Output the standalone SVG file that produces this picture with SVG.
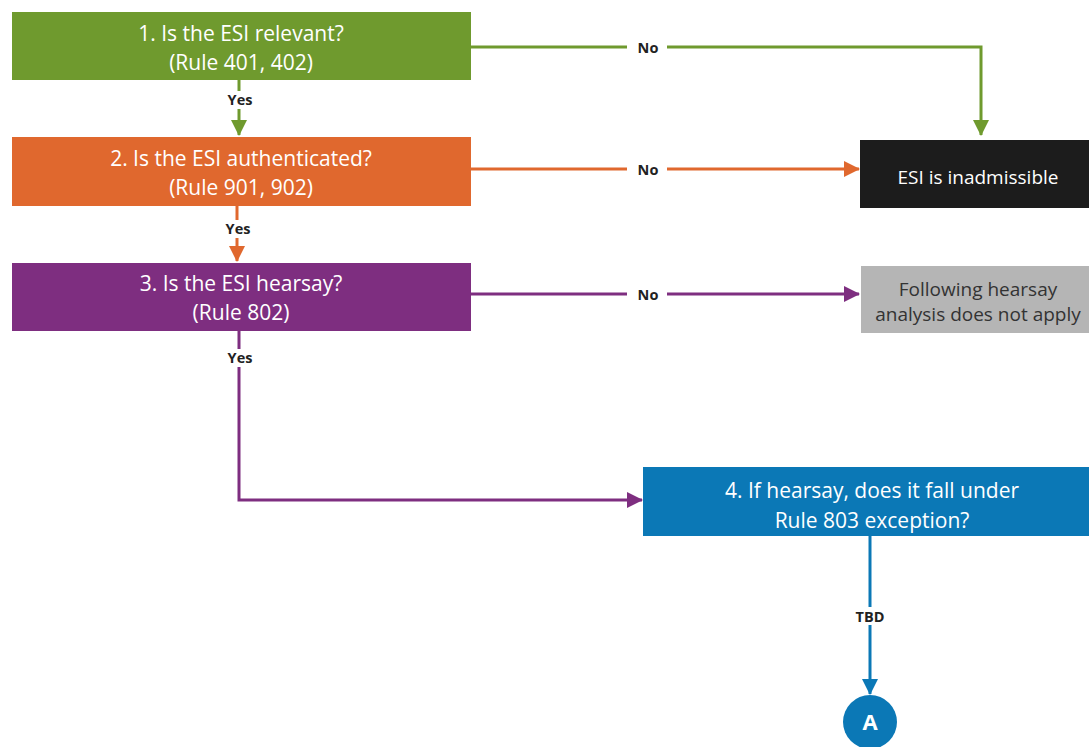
<svg xmlns="http://www.w3.org/2000/svg" width="1089" height="747" viewBox="0 0 1089 747">
<style>
.t{font-family:"Open Sans","Noto Sans","Liberation Sans",sans-serif;font-size:21px;fill:#fff;text-anchor:middle}
.s{font-size:19px}
.lb{font-family:"Open Sans","Noto Sans","Liberation Sans",sans-serif;font-size:14.5px;font-weight:bold;fill:#222;text-anchor:middle}
.c{fill:none;stroke-width:3}
.bg{fill:#fff}
</style>
<defs>
<marker id="aG" markerUnits="userSpaceOnUse" markerWidth="16" markerHeight="16" viewBox="0 0 16 16" refX="15" refY="8" orient="auto"><path d="M0,0 L16,8 L0,16 Z" fill="#6f9a2e"/></marker>
<marker id="aO" markerUnits="userSpaceOnUse" markerWidth="16" markerHeight="16" viewBox="0 0 16 16" refX="15" refY="8" orient="auto"><path d="M0,0 L16,8 L0,16 Z" fill="#e0682e"/></marker>
<marker id="aP" markerUnits="userSpaceOnUse" markerWidth="16" markerHeight="16" viewBox="0 0 16 16" refX="15" refY="8" orient="auto"><path d="M0,0 L16,8 L0,16 Z" fill="#7e2e80"/></marker>
<marker id="aB" markerUnits="userSpaceOnUse" markerWidth="16" markerHeight="16" viewBox="0 0 16 16" refX="15" refY="8" orient="auto"><path d="M0,0 L16,8 L0,16 Z" fill="#0b78b6"/></marker>
</defs>
<rect width="1089" height="747" fill="#fff"/>
<g id="connectors">
<path class="c" stroke="#6f9a2e" d="M471,47 H981 V135" marker-end="url(#aG)"/>
<path class="c" stroke="#6f9a2e" d="M239,80 V135" marker-end="url(#aG)"/>
<path class="c" stroke="#e0682e" d="M471,169 H859" marker-end="url(#aO)"/>
<path class="c" stroke="#e0682e" d="M237,206 V261" marker-end="url(#aO)"/>
<path class="c" stroke="#7e2e80" d="M471,294 H859" marker-end="url(#aP)"/>
<path class="c" stroke="#7e2e80" d="M239,331 V500 H642" marker-end="url(#aP)"/>
<path class="c" stroke="#0b78b6" d="M870,536 V694" marker-end="url(#aB)"/>
<rect class="bg" x="627" y="38" width="40" height="18"/>
<text class="lb" x="648" y="53">No</text>
<rect class="bg" x="627" y="160" width="40" height="18"/>
<text class="lb" x="648" y="175">No</text>
<rect class="bg" x="627" y="285" width="40" height="18"/>
<text class="lb" x="648" y="300">No</text>
<rect class="bg" x="220" y="91" width="38" height="18"/>
<text class="lb" x="240" y="105">Yes</text>
<rect class="bg" x="218" y="220" width="38" height="18"/>
<text class="lb" x="238" y="234">Yes</text>
<rect class="bg" x="220" y="349" width="38" height="18"/>
<text class="lb" x="240" y="363">Yes</text>
<rect class="bg" x="849" y="607" width="42" height="18"/>
<text class="lb" x="870" y="622">TBD</text>
</g>
<g id="n1">
<rect x="12" y="12" width="459" height="68" fill="#6f9a2e"/>
<text class="t" x="241" y="41">1. Is the ESI relevant?</text>
<text class="t" x="241" y="70">(Rule 401, 402)</text>
</g>
<g id="n2">
<rect x="12" y="137" width="459" height="69" fill="#e0682e"/>
<text class="t" x="241" y="166">2. Is the ESI authenticated?</text>
<text class="t" x="241" y="195">(Rule 901, 902)</text>
</g>
<g id="n3">
<rect x="12" y="263" width="459" height="68" fill="#7e2e80"/>
<text class="t" x="241" y="291">3. Is the ESI hearsay?</text>
<text class="t" x="241" y="320">(Rule 802)</text>
</g>
<g id="n4">
<rect x="643" y="467" width="446" height="69" fill="#0b78b6"/>
<text class="t" x="872" y="498">4. If hearsay, does it fall under</text>
<text class="t" x="872" y="528">Rule 803 exception?</text>
</g>
<g id="inadmissible">
<rect x="860" y="140" width="229" height="68" fill="#1c1c1c"/>
<text class="t s" x="978" y="184">ESI is inadmissible</text>
</g>
<g id="notapply">
<rect x="861" y="266" width="228" height="67" fill="#b5b5b5"/>
<text class="t s" x="978" y="296" style="fill:#333">Following hearsay</text>
<text class="t s" x="978" y="321" style="fill:#333">analysis does not apply</text>
</g>
<g id="A">
<circle cx="870" cy="722" r="27" fill="#0b78b6"/>
<text class="t" x="870" y="730" style="font-size:22px;font-weight:bold">A</text>
</g>
</svg>
